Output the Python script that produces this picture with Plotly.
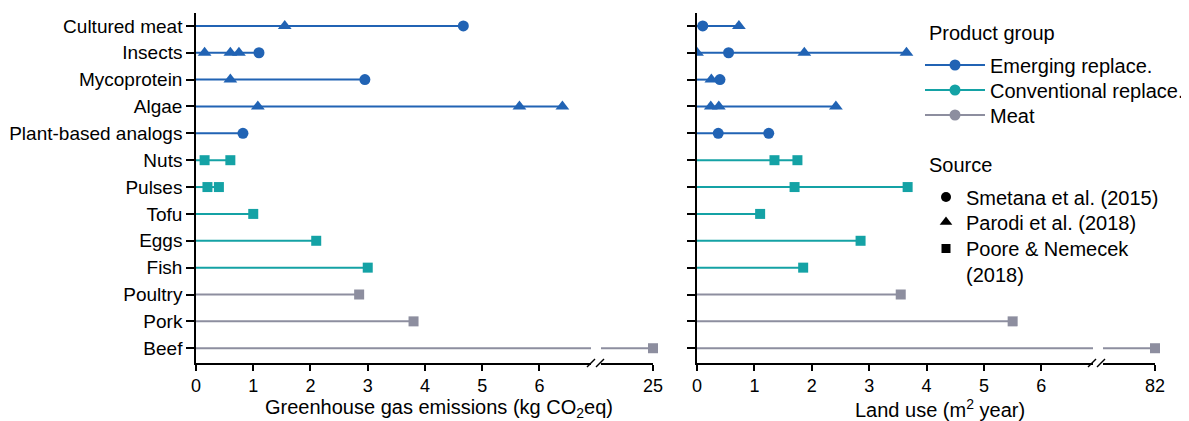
import plotly.graph_objects as go

# ---------------- data ----------------
products = ["Cultured meat", "Insects", "Mycoprotein", "Algae", "Plant-based analogs",
            "Nuts", "Pulses", "Tofu", "Eggs", "Fish", "Poultry", "Pork", "Beef"]
groups = ["Emerging replace.", "Emerging replace.", "Emerging replace.", "Emerging replace.",
          "Emerging replace.", "Conventional replace.", "Conventional replace.",
          "Conventional replace.", "Conventional replace.", "Conventional replace.",
          "Meat", "Meat", "Meat"]
group_names = ["Emerging replace.", "Conventional replace.", "Meat"]
sources = ["Smetana et al. (2015)", "Parodi et al. (2018)", "Poore & Nemecek<br>(2018)"]

# Greenhouse gas emissions (kg CO2eq)
ghg_smetana = {"Cultured meat": [4.67], "Insects": [1.1], "Mycoprotein": [2.95],
               "Plant-based analogs": [0.82]}
ghg_parodi = {"Cultured meat": [1.55], "Insects": [0.15, 0.6, 0.75], "Mycoprotein": [0.6],
              "Algae": [1.08, 5.65, 6.4]}
ghg_poore = {"Nuts": [0.15, 0.6], "Pulses": [0.2, 0.4], "Tofu": [1.0], "Eggs": [2.1],
             "Fish": [3.0], "Poultry": [2.85], "Pork": [3.8], "Beef": [25]}

# Land use (m2 year)
land_smetana = {"Cultured meat": [0.1], "Insects": [0.55], "Mycoprotein": [0.4],
                "Plant-based analogs": [0.37, 1.25]}
land_parodi = {"Cultured meat": [0.73], "Insects": [0.0, 1.87, 3.65], "Mycoprotein": [0.25],
               "Algae": [0.24, 0.38, 2.42]}
land_poore = {"Nuts": [1.35, 1.75], "Pulses": [1.7, 3.67], "Tofu": [1.1], "Eggs": [2.85],
              "Fish": [1.85], "Poultry": [3.55], "Pork": [5.5], "Beef": [82]}

ghg_ticks = [0, 1, 2, 3, 4, 5, 6]
ghg_break_tick = [25]
land_ticks = [0, 1, 2, 3, 4, 5, 6]
land_break_tick = [82]

# ---------------- style ----------------
OFF = 8                      # page body margin
W, H = 1189 - OFF, 421 - OFF
FONT = "Liberation Sans, Arial, sans-serif"
colors = {"Emerging replace.": "#2163B4", "Conventional replace.": "#14A2A5", "Meat": "#8D8E9F"}
symbols = ["circle", "triangle-up", "square"]
msizes = [11, 12, 10]
MAIN_MAX = 6.9


def px_x(p):
    return (p - OFF) / W


def px_y(p):
    return 1 - (p - OFF) / H


fig = go.Figure()


def add_panel(src_dicts, xa_main, xa_brk, ya, brk_range):
    for prod, grp in zip(products, groups):
        vals = []
        for d in src_dicts:
            vals += d.get(prod, [])
        vmax = max(vals)
        col = colors[grp]
        fig.add_trace(go.Scatter(x=[0, vmax], y=[prod, prod], mode="lines",
                                 line=dict(color=col, width=2), xaxis=xa_main, yaxis=ya,
                                 showlegend=False, hoverinfo="skip"))
        if vmax > MAIN_MAX:
            fig.add_trace(go.Scatter(x=[brk_range[0] - 5, vmax], y=[prod, prod], mode="lines",
                                     line=dict(color=col, width=2), xaxis=xa_brk, yaxis=ya,
                                     showlegend=False, hoverinfo="skip"))
        for d, sym, ms in zip(src_dicts, symbols, msizes):
            v = d.get(prod, [])
            lo = [a for a in v if a <= MAIN_MAX]
            hi = [a for a in v if a > MAIN_MAX]
            if lo:
                fig.add_trace(go.Scatter(x=lo, y=[prod] * len(lo), mode="markers",
                                         marker=dict(symbol=sym, size=ms, color=col),
                                         xaxis=xa_main, yaxis=ya, showlegend=False,
                                         cliponaxis=True))
            if hi:
                fig.add_trace(go.Scatter(x=hi, y=[prod] * len(hi), mode="markers",
                                         marker=dict(symbol=sym, size=ms, color=col),
                                         xaxis=xa_brk, yaxis=ya, showlegend=False,
                                         cliponaxis=False))


add_panel([ghg_smetana, ghg_parodi, ghg_poore], "x", "x2", "y", [23, 25])
add_panel([land_smetana, land_parodi, land_poore], "x3", "x4", "y2", [78, 82])

# legend entries: one legend per entry for exact placement
LEG_FONT = 20
legends = {}
grp_y = [65, 90, 115]
for i, g in enumerate(group_names):
    key = "legend" if i == 0 else "legend%d" % (i + 1)
    fig.add_trace(go.Scatter(x=[None], y=[None], mode="lines+markers", name=g,
                             line=dict(color=colors[g], width=2),
                             marker=dict(symbol="circle", size=11, color=colors[g]),
                             legend=key))
    legends[key] = dict(x=px_x(920), y=px_y(grp_y[i]), xanchor="left", yanchor="middle",
                        font=dict(size=LEG_FONT), bgcolor="rgba(0,0,0,0)", itemwidth=60)
src_y = [197, 222, 261.5]
for j, (s, sym, ms) in enumerate(zip(sources, symbols, [10, 11, 9])):
    key = "legend%d" % (j + 4)
    fig.add_trace(go.Scatter(x=[None], y=[None], mode="markers", name=s,
                             marker=dict(symbol=sym, size=ms, color="black"),
                             legend=key))
    legends[key] = dict(x=px_x(926), y=px_y(src_y[j]), xanchor="left", yanchor="middle",
                        font=dict(size=LEG_FONT), bgcolor="rgba(0,0,0,0)", valign="top")

ax_common = dict(showline=True, linecolor="black", linewidth=1.5, ticks="outside",
                 ticklen=6, tickwidth=1.5, tickcolor="black", showgrid=False,
                 zeroline=False, tickfont=dict(size=18, color="black", family=FONT),
                 automargin=False, fixedrange=True)
ydom = [px_y(363), px_y(13)]
y_common = dict(type="category", categoryarray=products, categoryorder="array",
                range=[12.55, -0.48], domain=ydom, showline=True, linecolor="black",
                linewidth=1.5, ticks="outside", ticklen=8, tickwidth=1.5,
                tickcolor="black", showgrid=False, zeroline=False,
                tickfont=dict(size=19, color="black", family=FONT), automargin=False)

fig.update_layout(
    width=W, height=H, margin=dict(l=0, r=0, t=0, b=0),
    paper_bgcolor="white", plot_bgcolor="white", template="none",
    font=dict(family=FONT, size=19, color="black"),
    xaxis=dict(domain=[px_x(196), px_x(591)], range=[0, MAIN_MAX], anchor="y",
               tickvals=ghg_ticks, **ax_common),
    xaxis2=dict(domain=[px_x(601), px_x(653)], range=[23, 25], anchor="y",
                tickvals=ghg_break_tick, **ax_common),
    xaxis3=dict(domain=[px_x(697), px_x(1093)], range=[0, MAIN_MAX], anchor="y2",
                tickvals=land_ticks, **ax_common),
    xaxis4=dict(domain=[px_x(1103), px_x(1155)], range=[78, 82], anchor="y2",
                tickvals=land_break_tick, **ax_common),
    yaxis=dict(anchor="x", showticklabels=True, **y_common),
    yaxis2=dict(anchor="x3", showticklabels=False, **y_common),
    annotations=[
        dict(text="Greenhouse gas emissions (kg CO<sub>2</sub>eq)", x=px_x(439), y=px_y(408),
             xref="paper", yref="paper", showarrow=False, font=dict(size=20),
             xanchor="center", yanchor="middle"),
        dict(text="Land use (m<sup>2</sup> year)", x=px_x(940), y=px_y(408),
             xref="paper", yref="paper", showarrow=False, font=dict(size=20),
             xanchor="center", yanchor="middle"),
        dict(text="Product group", x=px_x(927), y=px_y(33), xref="paper", yref="paper",
             showarrow=False, font=dict(size=LEG_FONT), xanchor="left", yanchor="middle"),
        dict(text="Source", x=px_x(927), y=px_y(165), xref="paper", yref="paper",
             showarrow=False, font=dict(size=LEG_FONT), xanchor="left", yanchor="middle"),
    ],
    **legends,
)

# axis-break marks
shapes = []
for x0 in (587, 1088):
    for dx in (0, 9):
        shapes.append(dict(type="line", xref="paper", yref="paper",
                           x0=px_x(x0 + dx), y0=px_y(367), x1=px_x(x0 + dx + 8), y1=px_y(359),
                           line=dict(color="black", width=1.5)))
fig.update_layout(shapes=shapes)

fig.write_html("out.html")
